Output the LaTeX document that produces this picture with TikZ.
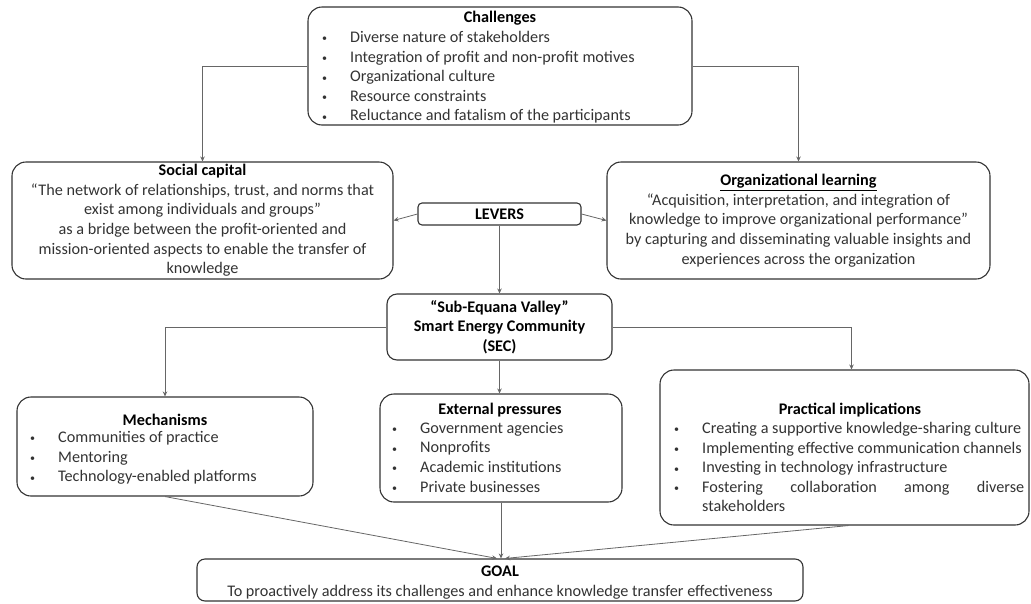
\documentclass[tikz,border=0pt]{standalone}
\usepackage{fontspec}
\setmainfont{Carlito}
\usetikzlibrary{arrows.meta,calc}
\begin{document}
\begin{tikzpicture}[x=1pt,y=-1pt,
  box/.style={draw=black!80, line width=1.1pt, rounded corners=14pt, inner sep=0pt},
  conn/.style={draw=black!60, line width=0.8pt, -{Stealth[length=5pt,width=4.5pt]}},
  txt/.style={font=\fontsize{16.2}{19.6}\selectfont, text=black!80, inner sep=0pt},
  ttl/.style={font=\fontsize{16.2}{19.6}\selectfont\bfseries, text=black, inner sep=0pt},
  lst/.style={txt, anchor=north west, align=left},
]
\newcommand{\bl}{\makebox[29pt][l]{\hspace*{1pt}{\fontsize{10}{10}\selectfont\raisebox{0.6pt}{•}}}}
\useasboundingbox (0,0) rectangle (1031,603);

% boxes
\node[box, minimum width=384pt, minimum height=118pt] (chal) at (500,66) {};
\node[ttl] (chalT) at (500,18) {Challenges};
\node[lst] (chalL) at (321,31) {\bl Diverse nature of stakeholders\\
\bl Integration of profit and non-profit motives\\
\bl Organizational culture\\
\bl Resource constraints\\
\bl Reluctance and fatalism of the participants};

\node[box, txt, align=center, minimum width=381pt, minimum height=117pt] (soc) at (202.5,220.5)
{\textcolor{black}{\textbf{Social capital}}\\
“The network of relationships,  trust, and norms that\\
exist among individuals  and groups”\\
as a bridge between  the profit-oriented  and\\
mission-oriented  aspects to enable  the transfer of\\
knowledge};

\node[box, txt, align=center, minimum width=383pt, minimum height=117pt] (org) at (798.5,220.5)
{\textcolor{black}{\textbf{\underline{Organizational learning}}}\\
“Acquisition,  interpretation,  and integration of\\
knowledge  to improve organizational performance”\\
by capturing and disseminating  valuable insights and\\
experiences  across the organization};

\node[box, ttl, rounded corners=4pt, minimum width=163pt, minimum height=22pt] (lev) at (499.5,214) {LEVERS};

\node[box, ttl, align=center, rounded corners=10pt, minimum width=225pt, minimum height=66pt] (sec) at (499.5,327)
{“Sub-Equana  Valley”\\Smart Energy Community\\(SEC)};

\node[box, minimum width=296pt, minimum height=99pt] (mech) at (165,446.5) {};
\node[ttl] (mechT) at (165,420) {Mechanisms};
\node[lst] (mechL) at (29,431) {\bl Communities  of practice\\
\bl Mentoring\\
\bl Technology-enabled  platforms};

\node[box, minimum width=242pt, minimum height=108pt] (ext) at (501,448) {};
\node[ttl] (extT) at (500,410) {External pressures};
\node[lst] (extL) at (391,422) {\bl Government  agencies\\
\bl Nonprofits\\
\bl Academic institutions\\
\bl Private businesses};

\node[box, minimum width=369pt, minimum height=155pt] (prac) at (844.5,447.5) {};
\node[ttl] (pracT) at (850,410) {Practical implications};
\node[lst] (pracL) at (673,422) {\bl Creating a supportive knowledge-sharing  culture\\
\bl Implementing  effective communication channels\\
\bl Investing in technology infrastructure\\
\bl\makebox[322pt][s]{Fostering collaboration among diverse}\\
\hspace*{29pt}stakeholders};

\node[box, txt, align=center, rounded corners=8pt, minimum width=606pt, minimum height=42pt] (goal) at (500,580)
{\rule{0pt}{16pt}\textcolor{black}{\textbf{GOAL}}\\To proactively address its challenges and enhance knowledge  transfer effectiveness};

% connectors
\draw[conn] (chal.west) -| (soc.north);
\draw[conn] (chal.east) -| (org.north);
\draw[conn] (lev.west) -- (soc.east);
\draw[conn] (lev.east) -- (org.west);
\draw[conn] (lev.south) -- (sec.north);
\draw[conn] (sec.west) -| (mech.north);
\draw[conn] (sec.east) -| ($(prac.north)+(7,0)$);
\draw[conn] (sec.south) -- (sec.south |- ext.north);
\draw[conn] (mech.south) -- ($(goal.north)+(-3,0)$);
\draw[conn] (ext.south) -- (ext.south |- goal.north);
\draw[conn] ($(prac.south)+(4,0)$) -- ($(goal.north)+(5,0)$);
\end{tikzpicture}
\end{document}
